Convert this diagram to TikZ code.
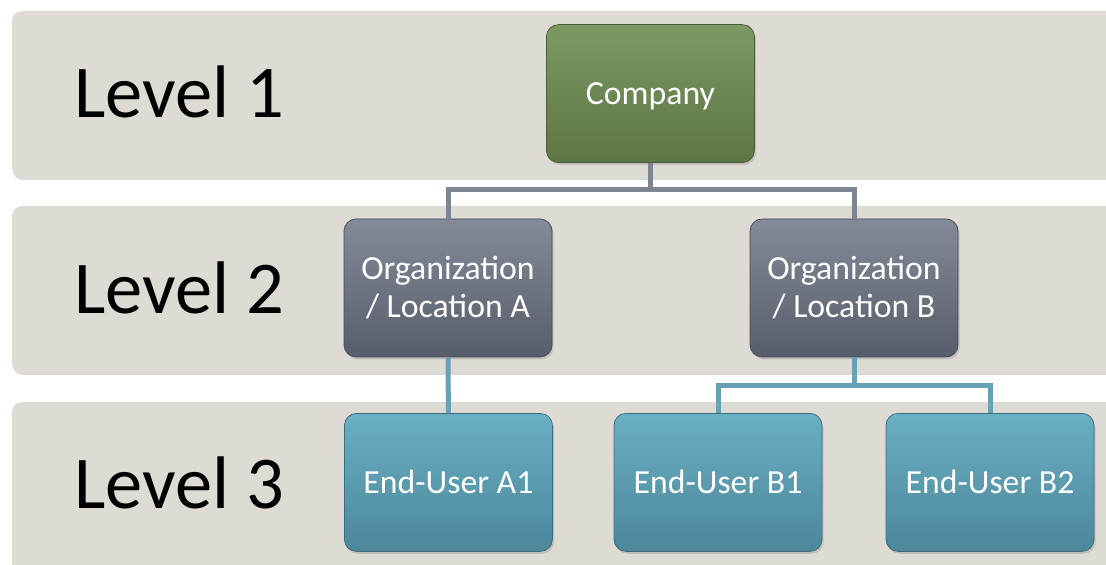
\documentclass[tikz,border=0pt]{standalone}
\usepackage{fontspec}
\setmainfont{Carlito}
\usetikzlibrary{shadows}

\definecolor{bandgray}{RGB}{222,219,213}
\definecolor{companytop}{RGB}{124,153,99}
\definecolor{companybot}{RGB}{93,117,68}
\definecolor{orgtop}{RGB}{132,138,152}
\definecolor{orgbot}{RGB}{87,93,106}
\definecolor{usertop}{RGB}{106,175,195}
\definecolor{userbot}{RGB}{76,135,154}
\definecolor{orgline}{RGB}{125,133,146}
\definecolor{userline}{RGB}{104,161,179}

\begin{document}
\begin{tikzpicture}[
    band/.style={fill=bandgray,rounded corners=2.5mm,
      drop shadow={opacity=0.3,shadow xshift=0.02cm,shadow yshift=-0.05cm}},
    lvl/.style={anchor=west,inner sep=0,font=\fontsize{53}{62}\selectfont},
    box/.style={rectangle,rounded corners=3mm,minimum width=5.2cm,
      minimum height=3.45cm,text=white,align=center,line width=0.5pt,
      font=\fontsize{24}{27}\selectfont,
      drop shadow={opacity=0.3,shadow xshift=0.04cm,shadow yshift=-0.06cm}},
    company/.style={box,top color=companytop,bottom color=companybot,
      draw=companybot!80!black,text depth=0pt},
    org/.style={box,top color=orgtop,bottom color=orgbot,draw=orgbot!80!black},
    user/.style={box,top color=usertop,bottom color=userbot,draw=userbot!80!black},
    link/.style={line width=0.125cm}
  ]
    \useasboundingbox (0,0) rectangle (27.65,-14.125);

    % the three level bands
    \path[band] (0.3,-0.275) rectangle (28.5,-4.45);
    \path[band] (0.3,-5.15) rectangle (28.5,-9.325);
    \path[band] (0.3,-10.05) rectangle (28.5,-14.6);

    \node[lvl] (lvl1) at (1.85,-2.3) {Level 1};
    \node[lvl] (lvl2) at (1.85,-7.2) {Level 2};
    \node[lvl] (lvl3) at (1.85,-12.08) {Level 3};

    % boxes
    \node[company] (company) at (16.26,-2.34) {Company};
    \node[org] (orgA) at (11.2,-7.2) {Organization\\/ Location A};
    \node[org] (orgB) at (21.35,-7.2) {Organization\\/ Location B};
    \node[user] (userA1) at (11.21,-12.06) {End-User A1};
    \node[user] (userB1) at (17.95,-12.06) {End-User B1};
    \node[user] (userB2) at (24.75,-12.06) {End-User B2};

    % connectors
    \coordinate (bus1) at (16.26,-4.75);
    \coordinate (bus2) at (21.35,-9.65);
    \draw[link,orgline] (company.south) -- (bus1) -| (orgA.north);
    \draw[link,orgline] (bus1) -| (orgB.north);
    \draw[link,userline] (orgA.south) -- (userA1.north);
    \draw[link,userline] (orgB.south) -- (bus2) -| (userB1.north);
    \draw[link,userline] (bus2) -| (userB2.north);
\end{tikzpicture}
\end{document}
